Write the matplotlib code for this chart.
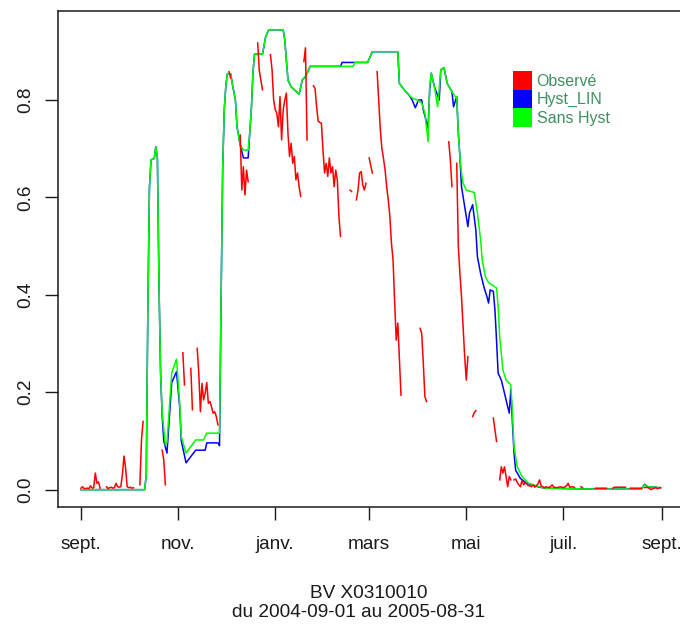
import numpy as np
import pandas as pd
import matplotlib
matplotlib.use('Agg')
import matplotlib.pyplot as plt
import matplotlib.dates as mdates
from matplotlib.patches import Patch

# period shown, day 0 = 2004-09-01
start = pd.Timestamp('2004-09-01')
n_days = 364

month_ticks = ['2004-09-01', '2004-11-01', '2005-01-01', '2005-03-01',
               '2005-05-01', '2005-07-01', '2005-09-01']
month_labels = ['sept.', 'nov.', 'janv.', 'mars', 'mai', 'juil.', 'sept.']
y_ticks = [0.0, 0.2, 0.4, 0.6, 0.8]
y_labels = ['0.0', '0.2', '0.4', '0.6', '0.8']

series_names = ['Observé', 'Hyst_LIN', 'Sans Hyst']
series_colors = ['#ff0000', '#0000ff', '#00ff00']

# Sans Hyst (green)
sans_day = [0, 40, 41, 42, 43, 44, 46, 47, 48, 49,
            50, 51, 53, 54, 57, 60, 62, 63, 66, 72,
            77, 79, 87, 88, 89, 90, 91, 92, 94, 95,
            97, 98, 100, 102, 105, 106, 107, 108, 109, 114,
            116, 118, 127, 128, 129, 130, 132, 137, 139, 141,
            144, 171, 172, 180, 183, 199, 200, 203, 206, 208,
            211, 214, 216, 218, 219, 220, 222, 224, 226, 228,
            230, 233, 235, 236, 237, 238, 239, 240, 242, 247,
            249, 251, 252, 254, 256, 261, 262, 263, 265, 267,
            270, 271, 272, 274, 277, 281, 288, 292, 324, 352,
            354, 356, 364]
sans_val = [0.0, 0.0, 0.03, 0.37, 0.62, 0.677, 0.68, 0.704, 0.68, 0.42,
            0.24, 0.157, 0.092, 0.096, 0.24, 0.268, 0.178, 0.109, 0.075, 0.102,
            0.102, 0.116, 0.116, 0.39, 0.66, 0.78, 0.83, 0.854, 0.854, 0.834,
            0.80, 0.745, 0.708, 0.697, 0.697, 0.732, 0.78, 0.855, 0.894, 0.894,
            0.930, 0.944, 0.944, 0.923, 0.882, 0.841, 0.827, 0.812, 0.841, 0.848,
            0.869, 0.869, 0.877, 0.877, 0.899, 0.899, 0.834, 0.821, 0.810, 0.804,
            0.80, 0.794, 0.773, 0.714, 0.827, 0.855, 0.827, 0.786, 0.862, 0.866,
            0.834, 0.817, 0.807, 0.807, 0.732, 0.684, 0.65, 0.629, 0.615, 0.61,
            0.568, 0.513, 0.472, 0.437, 0.425, 0.414, 0.376, 0.314, 0.246, 0.225,
            0.215, 0.157, 0.088, 0.047, 0.027, 0.013, 0.006, 0.003, 0.001, 0.001,
            0.01, 0.006, 0.004]

# Hyst_LIN (blue)
lin_day = [0, 40, 41, 42, 43, 44, 46, 47, 48, 49,
           50, 51, 52, 54, 57, 60, 62, 63, 66, 72,
           78, 79, 86, 87, 88, 89, 90, 91, 92, 94,
           95, 97, 98, 100, 102, 105, 106, 107, 108, 109,
           114, 116, 118, 127, 128, 129, 130, 132, 137, 139,
           141, 144, 163, 164, 180, 183, 199, 200, 203, 206,
           208, 210, 212, 214, 215, 218, 219, 220, 222, 225,
           226, 228, 230, 233, 234, 236, 237, 238, 239, 241,
           243, 244, 246, 248, 249, 251, 253, 255, 256, 257,
           259, 260, 261, 262, 264, 266, 267, 269, 270, 271,
           272, 273, 276, 280, 288, 292, 324, 352, 354, 356,
           364]
lin_val = [0.0, 0.0, 0.03, 0.37, 0.62, 0.677, 0.68, 0.704, 0.68, 0.42,
           0.24, 0.15, 0.10, 0.075, 0.22, 0.242, 0.17, 0.10, 0.055, 0.081,
           0.081, 0.096, 0.096, 0.09, 0.39, 0.66, 0.78, 0.83, 0.854, 0.854,
           0.834, 0.80, 0.745, 0.708, 0.681, 0.681, 0.732, 0.78, 0.855, 0.894,
           0.894, 0.930, 0.944, 0.944, 0.923, 0.882, 0.841, 0.827, 0.812, 0.841,
           0.848, 0.869, 0.869, 0.877, 0.877, 0.899, 0.899, 0.834, 0.821, 0.810,
           0.80, 0.784, 0.80, 0.80, 0.78, 0.742, 0.82, 0.855, 0.827, 0.80,
           0.862, 0.866, 0.834, 0.817, 0.786, 0.807, 0.732, 0.684, 0.622, 0.581,
           0.54, 0.568, 0.585, 0.533, 0.478, 0.444, 0.417, 0.396, 0.383, 0.41,
           0.407, 0.369, 0.307, 0.239, 0.225, 0.198, 0.184, 0.157, 0.205, 0.136,
           0.075, 0.040, 0.023, 0.013, 0.005, 0.003, 0.001, 0.001, 0.011, 0.006,
           0.004]

# Observé (red), nan = missing observation
nan = np.nan
obs_day = [0, 1, 2, 4, 5, 6, 7, 8, 9, 10, 11, 12, 13,
           16, 17, 18, 19, 20, 21, 22, 23, 24, 25, 26, 27, 28, 29, 30, 31, 32, 33, 34,
           37, 38, 39, 40,
           51, 52, 53, 54,
           64, 65, 66,
           69, 70, 71,
           73, 74, 75, 76, 77, 78, 79, 80, 81, 82, 83, 84, 85, 86, 87,
           93, 94, 95,
           100, 101, 102, 103, 104, 105, 106,
           111, 112, 113, 114, 115,
           119, 120, 121, 122, 123, 124, 125, 126, 127, 128, 129, 130, 131, 132,
           133, 134, 135, 136, 137, 138, 139,
           140, 141, 142, 143,
           146, 147, 148, 149, 150, 151, 152, 153, 154, 155, 156, 157, 158, 159,
           160, 161, 162, 163, 164,
           169, 170, 171,
           173, 174, 175, 176, 177, 178, 179, 180,
           181, 182, 183, 184,
           186, 187, 188, 189, 190, 191, 192, 193, 194, 195, 196, 197, 198, 199,
           200, 201, 202,
           213, 214, 215, 216, 217, 218,
           231, 232, 233, 234,
           236, 237, 238, 239, 240, 241, 242, 243, 244,
           246, 247, 248, 249,
           259, 260, 261, 262,
           263, 264, 265, 266, 267, 268, 269, 270, 271,
           272, 273, 274, 275, 276, 277, 278, 279, 280, 281, 282, 283, 284, 285,
           286, 287, 288, 289, 290, 291, 292, 294, 296, 297, 299, 301, 303, 305,
           306, 307, 309, 310, 311,
           314, 315, 316,
           323, 330, 331,
           334, 335, 342, 343,
           345, 352, 353,
           354, 355, 357, 358, 359, 361, 362, 363, 364]
obs_val = [0.003, 0.006, 0.002, 0.003, 0.002, 0.008, 0.003, 0.004, 0.034, 0.013, 0.016, 0.003, nan,
           0.006, 0.002, 0.004, 0.005, 0.003, 0.004, 0.013, 0.006, 0.005, 0.006, 0.03, 0.069, 0.045,
           0.006, 0.004, 0.005, 0.003, 0.004, nan,
           0.01, 0.102, 0.14, nan,
           0.081, 0.061, 0.01, nan,
           0.281, 0.215, nan,
           0.249, 0.164, nan,
           0.29, 0.239, 0.16, 0.218, 0.184, 0.198, 0.22, 0.177, 0.181, 0.17, 0.157, 0.16, 0.15, 0.133, nan,
           0.858, 0.845, nan,
           0.728, 0.615, 0.663, 0.605, 0.656, 0.632, nan,
           0.917, 0.86, 0.84, 0.821, nan,
           0.893, 0.862, 0.80, 0.78, 0.773, 0.745, 0.807, 0.718, 0.779, 0.80, 0.814, 0.732, 0.684, 0.711,
           0.670, 0.684, 0.636, 0.650, 0.622, 0.602, nan,
           0.879, 0.907, 0.718, nan,
           0.829, 0.824, 0.786, 0.756, 0.754, 0.752, 0.697, 0.65, 0.670, 0.643, 0.681, 0.650, 0.663, 0.622,
           0.656, 0.636, 0.561, 0.520, nan,
           0.615, 0.612, nan,
           0.595, 0.615, 0.650, 0.653, 0.625, 0.615, 0.629, nan,
           0.681, 0.665, 0.650, nan,
           0.858, 0.80, 0.74, 0.70, 0.68, 0.656, 0.622, 0.595, 0.561, 0.506, 0.472, 0.386, 0.307, 0.342,
           0.27, 0.194, nan,
           0.331, 0.321, 0.26, 0.191, 0.181, nan,
           0.714, 0.677, 0.622, nan,
           0.670, 0.50, 0.444, 0.396, 0.335, 0.273, 0.225, 0.273, nan,
           0.150, 0.158, 0.162, nan,
           0.147, 0.123, 0.099, nan,
           0.02, 0.047, 0.034, 0.047, 0.027, 0.006, 0.027, 0.02, nan,
           0.02, 0.022, 0.015, 0.01, 0.006, 0.019, 0.01, 0.014, 0.012, 0.008, 0.008, 0.006, 0.01, 0.005,
           0.008, 0.012, 0.02, 0.008, 0.006, 0.004, 0.006, 0.004, 0.01, 0.005, 0.004, 0.006, 0.004, 0.008,
           0.013, 0.005, 0.006, 0.004, nan,
           0.006, 0.004, nan,
           0.003, 0.003, nan,
           0.003, 0.005, 0.005, nan,
           0.003, 0.003, nan,
           0.004, 0.005, 0.003, 0.0, 0.002, 0.004, 0.002, 0.003, 0.004]


def to_dates(days):
    return start + pd.to_timedelta(days, unit='D')


plt.rcParams['font.family'] = ['Liberation Sans', 'DejaVu Sans']
text_col = '#1a1a1a'

W, H = 680, 624
fig = plt.figure(figsize=(W / 100, H / 100), dpi=100)
# axes box in pixels: left 57.8, right 683.7 (just past the image), top 11.3, bottom 506.7
ax = fig.add_axes([57.8 / W, 1 - 506.7 / H, (683.7 - 57.8) / W, (506.7 - 11.3) / H])

ax.plot(to_dates(lin_day), lin_val, color=series_colors[1], lw=1.1, zorder=2)
ax.plot(to_dates(sans_day), sans_val, color=series_colors[2], lw=1.1, zorder=3)
ax.plot(to_dates(obs_day), obs_val, color=series_colors[0], lw=1.1, zorder=4)

# R style 4% padding around the data range
pad = 0.04 * n_days
x0 = mdates.date2num(start) - pad
x1 = mdates.date2num(start) + n_days + pad
ax.set_xlim(x0, x1)
ax.set_ylim(-0.035, 0.982)

ax.set_xticks([mdates.date2num(pd.Timestamp(d)) for d in month_ticks])
ax.set_xticklabels(month_labels)
ax.set_yticks(y_ticks)
ax.set_yticklabels(y_labels, rotation=90, va='center')

ax.tick_params(axis='both', length=9.4, width=1.0, labelsize=13.7,
               colors=text_col, direction='out')
ax.tick_params(axis='x', pad=12)
ax.tick_params(axis='y', pad=7.5)
for side in ['left', 'bottom', 'top', 'right']:
    ax.spines[side].set_linewidth(1.1)
    ax.spines[side].set_color(text_col)

handles = [Patch(facecolor=c, edgecolor='none') for c in series_colors]
ax.legend(handles, series_names, loc='upper left',
          bbox_to_anchor=(513.3 / W, 1 - 71 / H), bbox_transform=fig.transFigure,
          frameon=False, fontsize=11.5, handlelength=1.165, handleheight=1.415,
          handletextpad=0.3, labelspacing=0.0, borderpad=0, borderaxespad=0,
          labelcolor='#3f8f5f')

fig.text(369 / W, 1 - 598 / H, 'BV X0310010', ha='center', va='baseline',
         fontsize=13.7, color=text_col)
fig.text(359 / W, 1 - 617 / H, 'du 2004-09-01 au 2005-08-31', ha='center',
         va='baseline', fontsize=13.7, color=text_col)

fig.savefig('out.png', dpi=100)
